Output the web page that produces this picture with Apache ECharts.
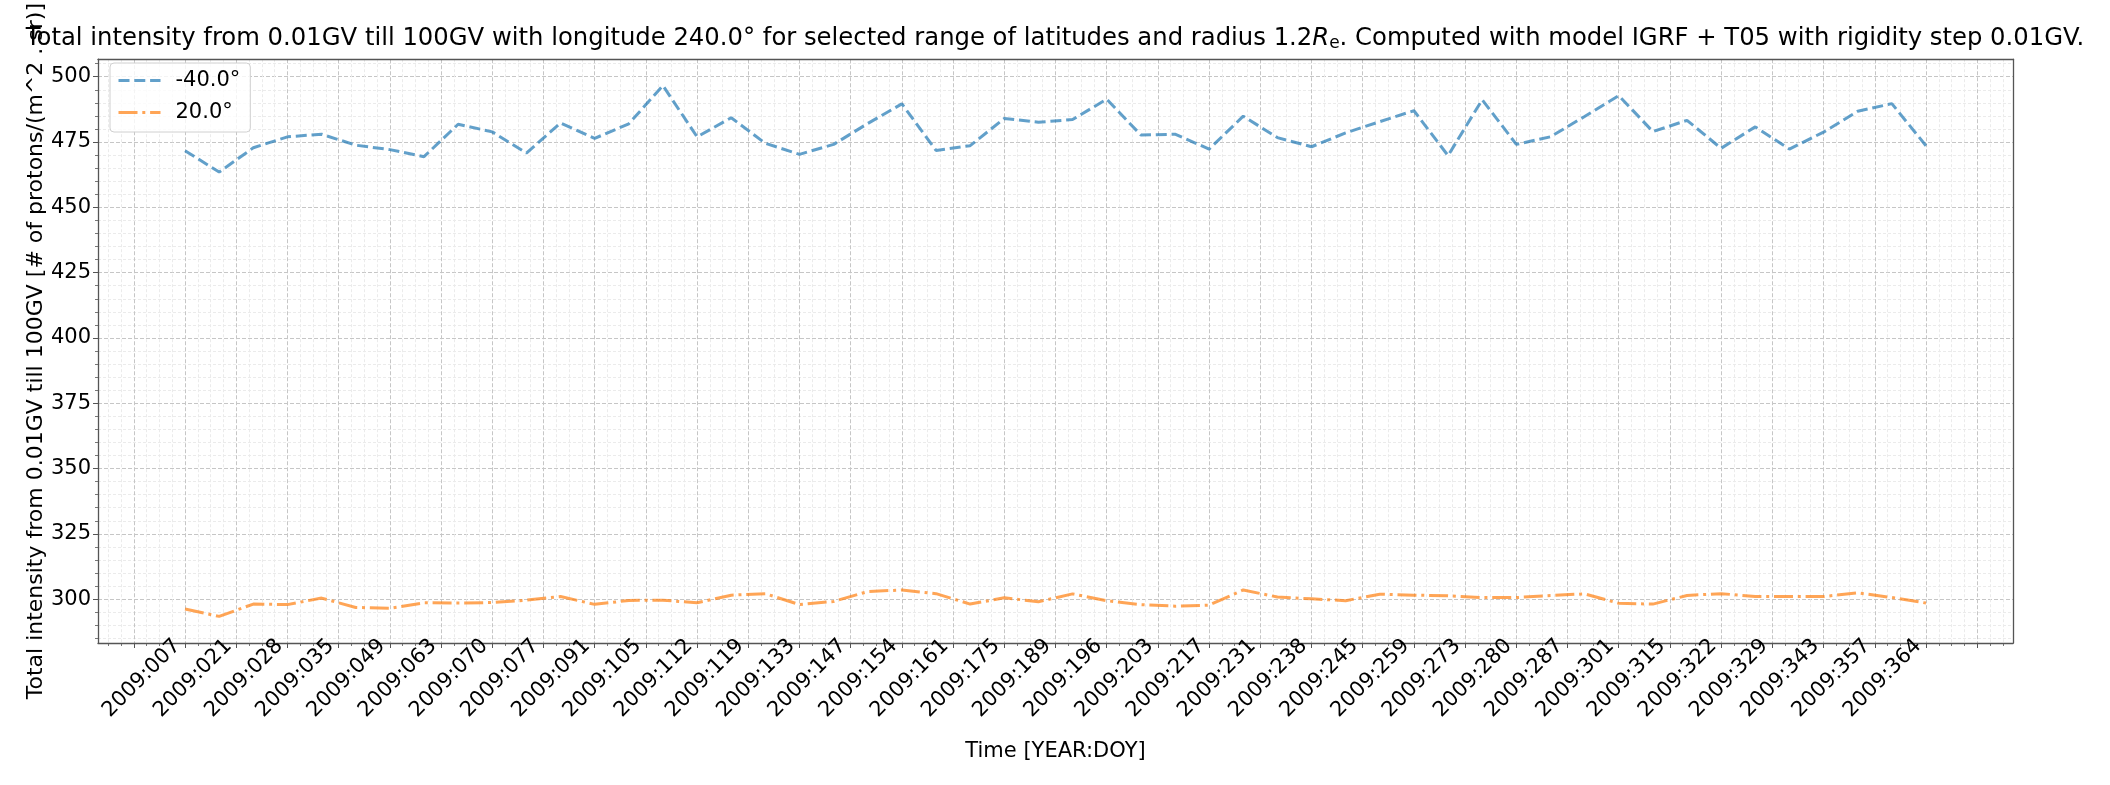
<!DOCTYPE html>
<html>
<head>
<meta charset="utf-8">
<script src="https://cdn.jsdelivr.net/npm/echarts@6/dist/echarts.min.js"></script>
<style>
html,body{margin:0;padding:0;background:#fff;}
#chart{width:2110px;height:785px;}
</style>
</head>
<body>
<div id="chart"></div>
<script>
// ---- data (weekly samples, DOY 7 .. 364 of 2009) ----
const seriesNames = ['-40.0°', '20.0°'];

const lat_m40 = [
  471.7, 463.5, 472.8, 477.0, 478.0, 473.8, 472.1, 469.4, 481.8, 478.9,
  470.8, 482.3, 476.4, 482.0, 496.6, 477.0, 484.3, 474.5, 470.3, 474.1,
  482.1, 489.6, 471.8, 473.6, 484.0, 482.6, 483.6, 491.4, 477.7, 478.0,
  472.3, 484.9, 476.7, 473.2, 478.5, 482.8, 487.0, 469.8, 491.2, 474.1,
  477.0, 484.8, 492.8, 479.0, 483.3, 472.6, 480.8, 472.3, 478.8, 486.8,
  489.7, 473.6
];

const lat_p20 = [
  296.2, 293.4, 298.1, 297.9, 300.4, 296.8, 296.5, 298.6, 298.5, 298.7,
  299.6, 301.0, 298.0, 299.5, 299.6, 298.6, 301.5, 302.1, 297.9, 299.1,
  302.9, 303.5, 302.1, 298.1, 300.5, 299.0, 302.0, 299.4, 297.9, 297.3,
  297.7, 303.5, 300.8, 300.1, 299.4, 301.9, 301.5, 301.3, 300.6, 300.6,
  301.4, 302.0, 298.4, 298.1, 301.4, 302.1, 301.0, 301.0, 301.0, 302.4,
  300.6, 298.5
];

// tick labels, one every 1.5 samples starting at the first sample
const tickLabels = [
  '2009:007','2009:021','2009:028','2009:035','2009:049','2009:063','2009:070',
  '2009:077','2009:091','2009:105','2009:112','2009:119','2009:133','2009:147',
  '2009:154','2009:161','2009:175','2009:189','2009:196','2009:203','2009:217',
  '2009:231','2009:238','2009:245','2009:259','2009:273','2009:280','2009:287',
  '2009:301','2009:315','2009:322','2009:329','2009:343','2009:357','2009:364'
];

const yMajorTicks = [300, 325, 350, 375, 400, 425, 450, 475, 500];

// ---- helpers ----
const FONT = 'DejaVu Sans';
const X_MIN = -2.55, X_MAX = 53.55;
const Y_MIN = 283.2, Y_MAX = 506.7;
const X_STEP = 1.5;

const xMajor = [];
for (let j = -1; j <= tickLabels.length; j++) xMajor.push(+(j * X_STEP).toFixed(4));
const xMinor = [];
for (let m = Math.ceil(X_MIN / 0.375); m <= Math.floor(X_MAX / 0.375); m++) {
  if (m % 4 !== 0) xMinor.push(+(m * 0.375).toFixed(4));
}
const yMinor = [];
for (let v = 285; v <= 505; v += 5) if (v % 25 !== 0) yMinor.push(v);

const toPairs = arr => arr.map((v, i) => [i, v]);

const majorGrid = {show: true, lineStyle: {color: '#c6c6c6', width: 1, type: [4, 2]}};
const minorGrid = {show: true, lineStyle: {color: '#ebebeb', width: 1, type: [3, 2]}};
const spine = {show: true, onZero: false, lineStyle: {color: '#555555', width: 1.3}};

const chart = echarts.init(document.getElementById('chart'), null, {renderer: 'canvas'});

chart.setOption({
  animation: false,
  backgroundColor: '#ffffff',
  title: {
    text: 'Total intensity from 0.01GV till 100GV with longitude 240.0° for selected range of latitudes and radius 1.2{i|R}{s|e}. Computed with model IGRF + T05 with rigidity step 0.01GV.',
    left: 'center',
    top: 25,
    padding: 0,
    textStyle: {
      fontFamily: FONT, fontSize: 24.3, fontWeight: 'normal', color: '#000',
      rich: {
        i: {fontFamily: FONT, fontSize: 24.3, fontStyle: 'italic', color: '#000'},
        s: {fontFamily: FONT, fontSize: 17, color: '#000', padding: [10, 0, 0, 0]}
      }
    }
  },
  legend: {
    orient: 'vertical',
    left: 110,
    top: 63,
    padding: [7, 10, 9, 7],
    itemWidth: 42,
    itemHeight: 14,
    itemGap: 11,
    borderColor: '#d0d0d0',
    borderWidth: 1,
    borderRadius: 4,
    backgroundColor: 'rgba(255,255,255,0.8)',
    itemStyle: {opacity: 0, borderWidth: 0},
    lineStyle: {width: 3},
    textStyle: {fontFamily: FONT, fontSize: 21, color: '#000', padding: [0, 0, 0, 10]},
    data: seriesNames
  },
  grid: {left: 98, top: 53, width: 1915, height: 590, containLabel: false},
  xAxis: [
    {
      type: 'value', min: X_MIN, max: X_MAX, position: 'bottom',
      axisLine: spine,
      axisTick: {show: true, customValues: xMajor, length: 5, lineStyle: {color: '#555555', width: 1}},
      axisLabel: {
        customValues: xMajor, rotate: 45, margin: -8, padding: [0, 11, 0, 0],
        fontFamily: FONT, fontSize: 21, color: '#000',
        formatter: v => {
          const j = Math.round(v / X_STEP);
          return (j >= 0 && j < tickLabels.length) ? tickLabels[j] : '';
        }
      },
      splitLine: majorGrid,
      name: 'Time [YEAR:DOY]', nameLocation: 'middle', nameGap: 98,
      nameTextStyle: {fontFamily: FONT, fontSize: 21, color: '#000'}
    },
    {
      type: 'value', min: X_MIN, max: X_MAX, position: 'bottom',
      axisLine: {show: false, onZero: false},
      axisTick: {show: true, customValues: xMinor, length: 3, lineStyle: {color: '#555555', width: 0.8}},
      axisLabel: {show: false},
      splitLine: minorGrid
    },
    {
      type: 'value', min: X_MIN, max: X_MAX, position: 'top',
      axisLine: spine, axisTick: {show: false}, axisLabel: {show: false}, splitLine: {show: false}
    }
  ],
  yAxis: [
    {
      type: 'value', min: Y_MIN, max: Y_MAX, position: 'left',
      axisLine: spine,
      axisTick: {show: true, customValues: yMajorTicks, length: 5, lineStyle: {color: '#555555', width: 1}},
      axisLabel: {customValues: yMajorTicks, margin: 7, fontFamily: FONT, fontSize: 21, color: '#000'},
      splitLine: majorGrid,
      name: 'Total intensity from 0.01GV till 100GV [# of protons/(m^2 . sr)]',
      nameLocation: 'middle', nameGap: 51, nameRotate: 90, nameMoveOverlap: false,
      nameTextStyle: {fontFamily: FONT, fontSize: 22, color: '#000'}
    },
    {
      type: 'value', min: Y_MIN, max: Y_MAX, position: 'left',
      axisLine: {show: false, onZero: false},
      axisTick: {show: true, customValues: yMinor, length: 3, lineStyle: {color: '#555555', width: 0.8}},
      axisLabel: {show: false},
      splitLine: minorGrid
    },
    {
      type: 'value', min: Y_MIN, max: Y_MAX, position: 'right',
      axisLine: spine, axisTick: {show: false}, axisLabel: {show: false}, splitLine: {show: false}
    }
  ],
  series: [
    {
      name: seriesNames[0], type: 'line', xAxisIndex: 0, yAxisIndex: 0,
      data: toPairs(lat_m40), symbol: 'none', showSymbol: false,
      color: 'rgba(31,119,180,0.7)',
      lineStyle: {width: 3, type: [11, 4.8], color: 'rgba(31,119,180,0.7)'},
      z: 5
    },
    {
      name: seriesNames[1], type: 'line', xAxisIndex: 0, yAxisIndex: 0,
      data: toPairs(lat_p20), symbol: 'none', showSymbol: false,
      color: 'rgba(255,127,14,0.7)',
      lineStyle: {width: 3, type: [19, 4.8, 3, 4.8], color: 'rgba(255,127,14,0.7)'},
      z: 5
    }
  ]
});
</script>
</body>
</html>
